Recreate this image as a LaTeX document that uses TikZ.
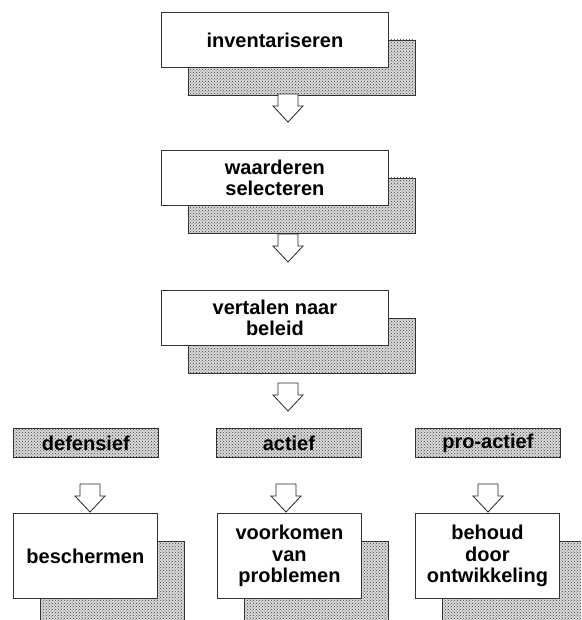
\documentclass[tikz,border=0pt]{standalone}
\usepackage{fontspec}
\setmainfont{Liberation Sans}
\usetikzlibrary{patterns}

\tikzset{
  shade box/.style={draw=black!80, line width=0.8pt, preaction={fill=gray!30},
    pattern=crosshatch dots, pattern color=black!75},
  card/.style={draw=black!80, line width=0.8pt, fill=white, inner sep=0pt,
    align=center, anchor=north west, font=\bfseries\fontsize{20}{21.5}\selectfont},
  tag/.style={shade box, inner sep=0pt, anchor=north west,
    minimum width=145pt, minimum height=29pt, font=\bfseries\fontsize{20}{21.5}\selectfont},
  hollow arrow/.style={draw=black!85, fill=white, line width=0.8pt, line join=miter}
}
% block arrow pointing down, tip at the given coordinate
\newcommand\hollowarrow[1]{%
  \draw[hollow arrow] (#1) -- ++(-15,-16) -- ++(5,0) -- ++(0,-12) -- ++(20,0)
    -- ++(0,12) -- ++(5,0) -- cycle;}

\begin{document}
\begin{tikzpicture}[x=1pt,y=-1pt]
  % Constants
  \pgfmathsetmacro\dx{27}
  \pgfmathsetmacro\dy{28}
  % Boundary
  \path[use as bounding box] (0,0) rectangle (581,620);
  \clip (0,0) rectangle (581,620);
  % Main column
  \foreach \y/\name/\txt in {12/inv/inventariseren,
      150/waard/{waarderen\\selecteren},
      290/vert/{vertalen naar\\beleid}} {
    \draw[shade box] (161+\dx,\y+\dy) rectangle (388+\dx,\y+55+\dy);
    \node[card, minimum width=227pt, minimum height=55pt] (\name) at (161,\y) {\txt};
  }
  \coordinate (t1) at (288,122);
  \coordinate (t2) at (288,262);
  \coordinate (t3) at (288,411);
  \hollowarrow{t1}
  \hollowarrow{t2}
  \hollowarrow{t3}
  % Strategies
  \node[tag] (def) at (13,428) {defensief};
  \node[tag] (act) at (216,428) {actief};
  \node[tag] (pro) at (415,428) {pro-actief};
  \coordinate (t4) at (90,512);
  \coordinate (t5) at (286,512);
  \coordinate (t6) at (488,512);
  \hollowarrow{t4}
  \hollowarrow{t5}
  \hollowarrow{t6}
  % Results
  \foreach \x/\name/\txt in {13/besch/beschermen,
      217/voork/{voorkomen\\van\\problemen},
      415/behoud/{behoud\\door\\ontwikkeling}} {
    \draw[shade box] (\x+\dx,513+\dy) rectangle (\x+144+\dx,598+\dy);
    \node[card, minimum width=144pt, minimum height=85pt] (\name) at (\x,513) {\txt};
  }
\end{tikzpicture}
\end{document}
